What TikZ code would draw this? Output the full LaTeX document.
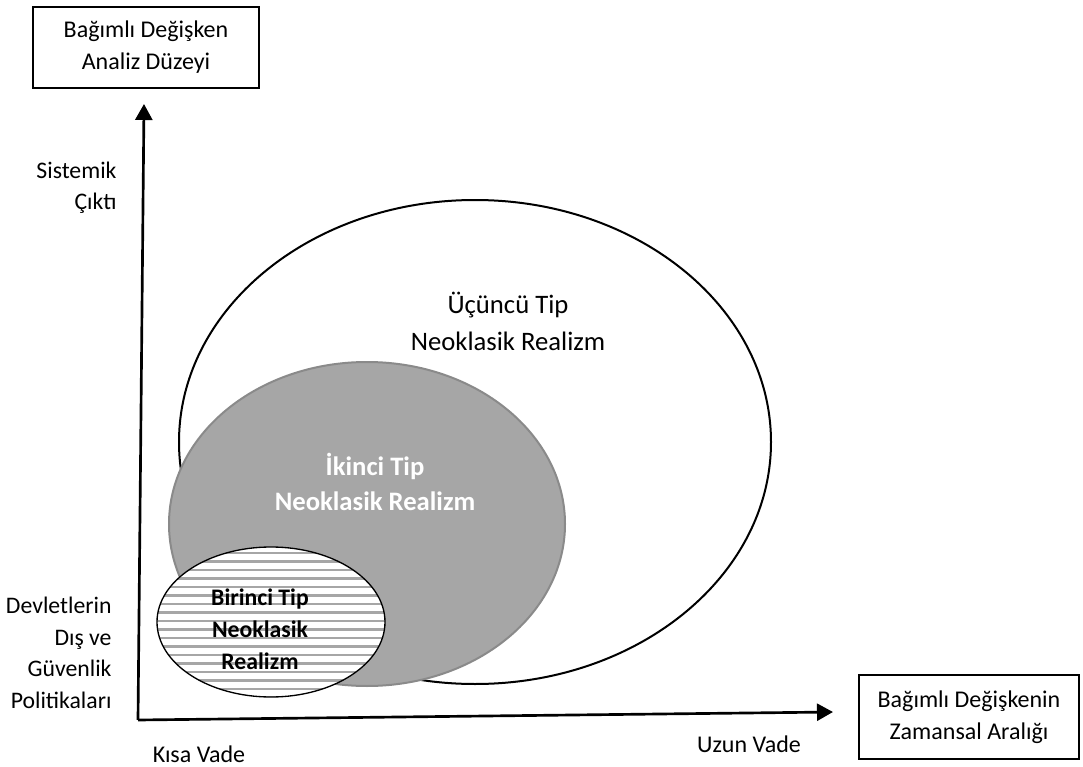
\documentclass[tikz,border=0pt]{standalone}
\usepackage{fontspec}
\setmainfont{Carlito}
\usetikzlibrary{arrows.meta}

\definecolor{midgrey}{HTML}{A6A6A6}
\definecolor{rimgrey}{HTML}{8A8A8A}

\tikzset{every picture/.style={line width=0.75pt}}
\tikzset{
	labelbox/.style={draw, line width=1.5pt, align=center, inner sep=0pt, font=\fontsize{18}{24}\selectfont},
	sidelabel/.style={align=right, anchor=east, inner sep=0pt, font=\fontsize{17.8}{23.6}\selectfont},
	termlabel/.style={anchor=base, inner sep=0pt, font=\fontsize{18}{24}\selectfont},
	axisline/.style={line width=2pt, -{Triangle[length=12pt,width=12.75pt]}},
	hatchline/.style={draw=midgrey, line width=1.6pt}}

\begin{document}
\begin{tikzpicture}[x=0.75pt,y=0.75pt,yscale=-1,xscale=1]
	\useasboundingbox (0,0) rectangle (1083,767);

	%Shape: Ellipse [third type]
	\draw [line width=1.5pt, fill=white] (475,442) ellipse [x radius=296, y radius=242];
	%Shape: Ellipse [second type]
	\draw [draw=rimgrey, line width=1.5pt, fill=midgrey] (367,524) ellipse [x radius=198, y radius=162];
	%Shape: Ellipse [first type], striped
	\begin{scope}
		\clip (271,622) ellipse [x radius=114, y radius=75];
		\fill [white] (150,540) rectangle (390,700);
		\foreach \y in {553,561.5,...,700} {
			\draw [hatchline] (150,\y) -- (390,\y);
		}
	\end{scope}
	\draw [line width=1pt] (271,622) ellipse [x radius=114, y radius=75];

	%Straight Lines [axes]
	\coordinate (origin) at (138,720);
	\coordinate (ytip) at (144,104);
	\coordinate (xtip) at (833,712);
	\draw [axisline] (origin) -- (ytip);
	\draw [axisline] (origin) -- (xtip);

	% Text Node
	\node [labelbox, minimum width=169.5pt, minimum height=60.75pt] (levelbox) at (146,47.5) {Bağımlı Değişken\\Analiz Düzeyi};
	% Text Node
	\node [labelbox, minimum width=165pt, minimum height=63pt] (spanbox) at (969,717) {Bağımlı Değişkenin\\Zamansal Aralığı};
	% Text Node
	\node [sidelabel] (systemic) at (117,188) {Sistemik\\Çıktı};
	% Text Node
	\node [sidelabel] (policy) at (112,653) {Devletlerin\\Dış ve\\Güvenlik\\Politikaları};
	% Text Node
	\node [termlabel] (shortterm) at (199,762) {Kısa Vade};
	% Text Node
	\node [termlabel] (longterm) at (749,752) {Uzun Vade};

	% Text Node
	\node [align=center, font=\fontsize{20}{27.75}\selectfont] (third) at (508,321) {Üçüncü Tip\\Neoklasik Realizm};
	% Text Node
	\node [align=center, text=white, font=\fontsize{20}{26.25}\selectfont\bfseries] (second) at (375,482) {İkinci Tip\\Neoklasik Realizm};
	% Text Node
	\node [align=center, font=\fontsize{17.8}{24}\selectfont\bfseries] (first) at (260,629) {Birinci Tip\\Neoklasik\\Realizm};

\end{tikzpicture}
\end{document}
